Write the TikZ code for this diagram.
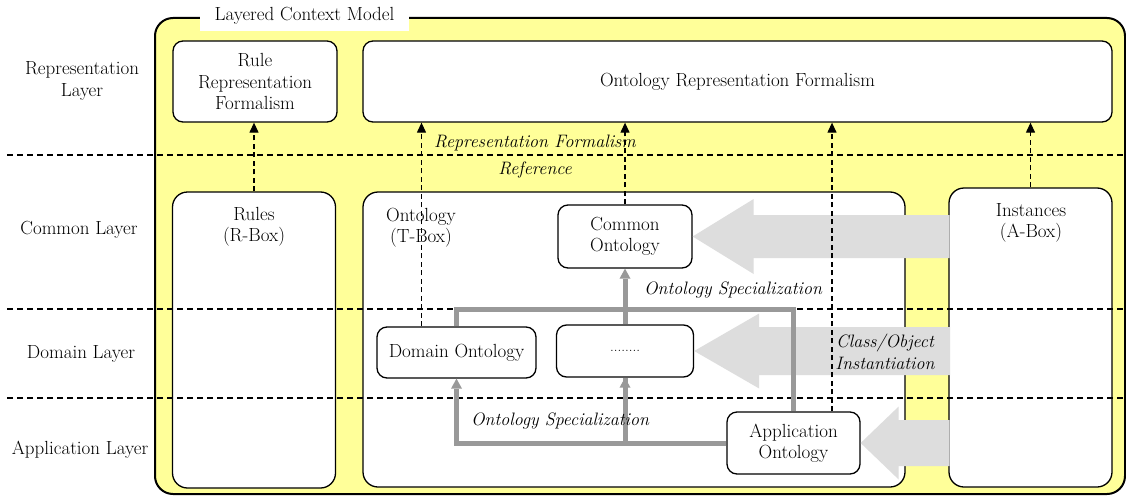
\documentclass[tikz,border=0pt]{standalone}
\usepackage{tikz}
\usetikzlibrary{arrows.meta}

\definecolor{modelyellow}{RGB}{255,255,153}
\definecolor{specgray}{RGB}{153,153,153}
\definecolor{instgray}{RGB}{221,221,221}

\begin{document}
\begin{tikzpicture}[x=1pt, y=-1pt,
    every node/.style={font=\fontsize{19}{21.5}\selectfont},
    box/.style={draw, fill=white, rounded corners=10, line width=1.3pt, align=center, inner sep=0pt},
    bigbox/.style={draw, fill=white, rounded corners=15, line width=1.3pt, inner sep=0pt},
    lbl/.style={font=\fontsize{18}{21.5}\selectfont\itshape, align=center},
    layerline/.style={dash pattern=on 6pt off 4pt, line width=1.2pt},
    refarrow/.style={dash pattern=on 5pt off 3.5pt, line width=1.2pt, -{Triangle[length=10pt,width=9pt]}},
    spec/.style={specgray, line width=5pt},
    specarrow/.style={spec, -{Triangle[length=10pt,width=11pt,line width=0pt]}},
    instfill/.style={fill=instgray}]
        \useasboundingbox (0,0) rectangle (1126,495);

        % layered context model frame
        \draw[fill=modelyellow, line width=2pt, rounded corners=18] (155,18) rectangle (1125,494);
        \node[fill=white, minimum width=209, minimum height=31, inner sep=0pt] (title) at (304.5,15.5) {Layered Context Model};

        % layer names
        \node[align=center] (replayer) at (82,81) {Representation\\Layer};
        \node (comlayer) at (79,230) {Common Layer};
        \node (domlayer) at (81,354) {Domain Layer};
        \node (applayer) at (80,450) {Application Layer};

        % representation layer
        \node[box, minimum width=164, minimum height=81] (rrep) at (255,81.5) {Rule\\Representation\\Formalism};
        \node[box, minimum width=749, minimum height=81] (orep) at (737.5,81.5) {Ontology Representation Formalism};

        % boxes
        \node[bigbox, minimum width=163, minimum height=296] (rules) at (254,340) {};
        \node[bigbox, minimum width=542, minimum height=295] (tbox) at (634,339.5) {};
        \node[bigbox, minimum width=163, minimum height=299] (inst) at (1030.5,337.5) {};
        \node[align=center] (rulestxt) at (254,227) {Rules\\(R-Box)};
        \node[align=center] (tboxtxt) at (421,227.5) {Ontology\\(T-Box)};
        \node[align=center] (insttxt) at (1031,223) {Instances\\(A-Box)};

        % layer borders
        \draw[layerline] (7,155) -- (1126,155);
        \draw[layerline] (7,309) -- (1126,309);
        \draw[layerline] (7,398) -- (1126,398);

        % ontologies
        \node[box, minimum width=134, minimum height=63] (common) at (625,236.5) {Common\\Ontology};
        \node[box, minimum width=159, minimum height=51] (dom) at (456.5,352.5) {Domain Ontology};
        \node[box, minimum width=137, minimum height=52, font=\fontsize{15}{18}\selectfont] (dots) at (625,351) {........};
        \node[box, minimum width=133, minimum height=62] (app) at (793.5,443) {Application\\Ontology};

        % instantiation
        \fill[instfill] (common.east) -- ++(61,-37.5) -- ++(0,16) -- ++(196,0) -- ++(0,43) -- ++(-196,0) -- ++(0,16) -- cycle;
        \fill[instfill] (dots.east) -- ++(65,-37.5) -- ++(0,13.5) -- ++(191,0) -- ++(0,48) -- ++(-191,0) -- ++(0,13.5) -- cycle;
        \fill[instfill] (app.east) -- ++(38,-36.5) -- ++(0,13.5) -- ++(51,0) -- ++(0,46) -- ++(-51,0) -- ++(0,13.5) -- cycle;

        % specialization
        \draw[spec] (dom.north) |- (dots.north |- 0,309) -| (app.north);
        \draw[specarrow] (dots.north) -- (common.south);
        \draw[spec] (app.west) -| (dots.south);
        \draw[specarrow] (app.west) -| (dom.south);
        \draw[specarrow] (dots.south |- app.west) -- (dots.south);

        % reference
        \coordinate (domref) at ([xshift=-35]dom.north);
        \coordinate (appref) at ([xshift=38.5]app.north);
        \draw[refarrow] (rules.north) -- (rules.north |- rrep.south);
        \draw[refarrow] (domref) -- (domref |- orep.south);
        \draw[refarrow] (common.north) -- (common.north |- orep.south);
        \draw[refarrow] (appref) -- (appref |- orep.south);
        \draw[refarrow] (inst.north) -- (inst.north |- orep.south);

        % labels
        \node[lbl] (formlbl) at (535,143) {Representation Formalism};
        \node[lbl] (reflbl) at (535,170) {Reference};
        \node[lbl] (speclbl) at (733,290) {Ontology Specialization};
        \node[lbl] (speclbl2) at (560,421) {Ontology Specialization};
        \node[lbl] (instlbl) at (885,352) {Class/Object\\Instantiation};
    \end{tikzpicture}
\end{document}
